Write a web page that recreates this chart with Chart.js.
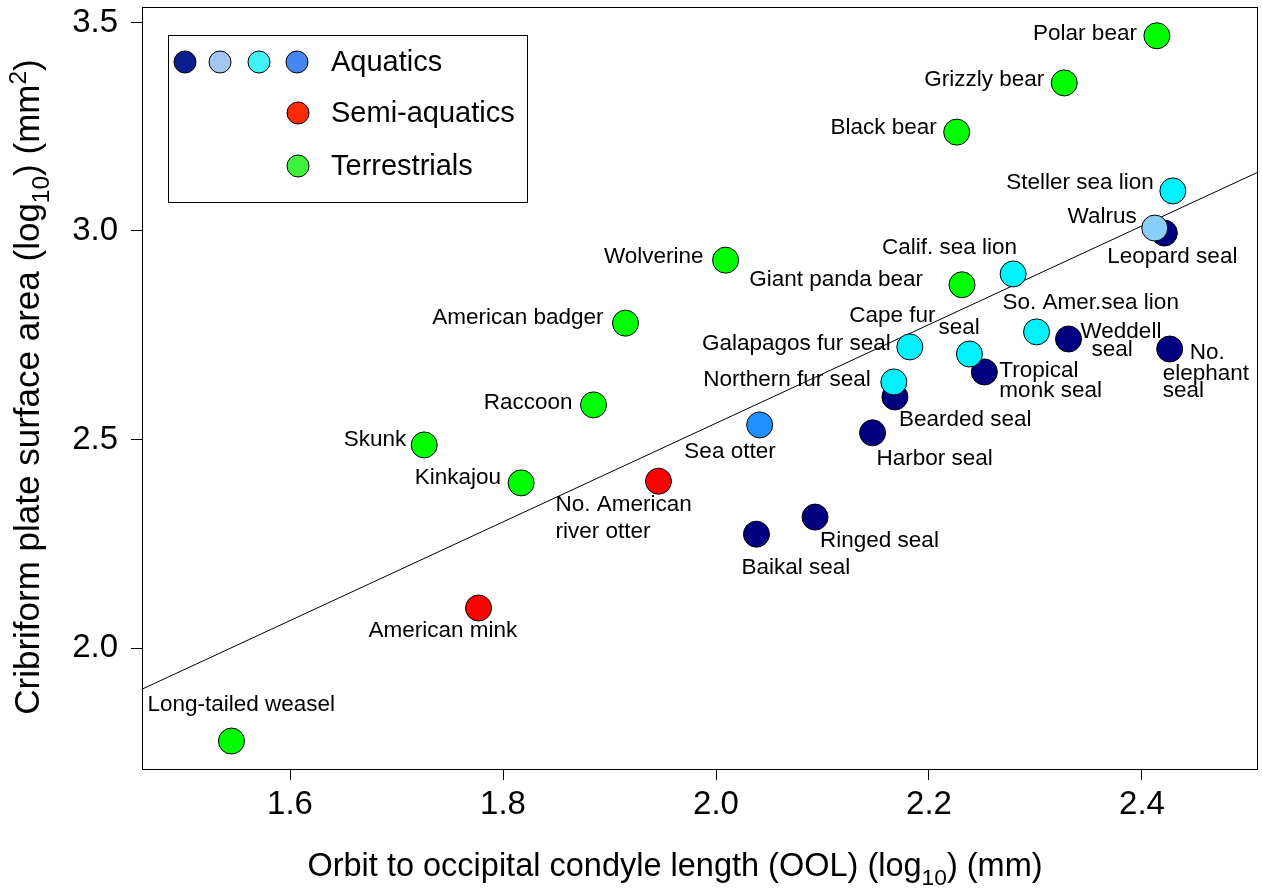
<!DOCTYPE html>
<html lang="en">
<head>
<meta charset="UTF-8">
<title>Cribriform plate area vs OOL</title>
<script src="https://cdn.jsdelivr.net/npm/chart.js"></script>
<style>
  body { margin: 0; background: #fff; }
  canvas { display: block; }
</style>
</head>
<body>
<canvas id="cpChart" width="1262" height="890"></canvas>
<script>
// species, log10 orbit-occipital condyle length (mm), log10 cribriform plate area (mm^2)
const species = [
  'Long-tailed weasel', 'American mink', 'Skunk', 'Kinkajou', 'Raccoon',
  'American badger', 'No. American river otter', 'Wolverine', 'Sea otter', 'Baikal seal',
  'Ringed seal', 'Harbor seal', 'Bearded seal', 'Northern fur seal', 'Galapagos fur seal',
  'Cape fur seal', 'Tropical monk seal', 'Giant panda bear', 'Black bear', 'Calif. sea lion',
  'So. Amer.sea lion', 'Weddell seal', 'Grizzly bear', 'Polar bear', 'Steller sea lion',
  'Walrus', 'Leopard seal', 'No. elephant seal'
];
const oolLog = [
  1.545, 1.777, 1.726, 1.817, 1.885,
  1.915, 1.946, 2.009, 2.041, 2.038,
  2.093, 2.147, 2.168, 2.167, 2.182,
  2.238, 2.252, 2.231, 2.226, 2.279,
  2.301, 2.331, 2.327, 2.414, 2.429,
  2.412, 2.421, 2.426
];
const cpLog = [
  1.777, 2.096, 2.487, 2.396, 2.583,
  2.779, 2.400, 2.930, 2.535, 2.273,
  2.314, 2.516, 2.602, 2.638, 2.722,
  2.705, 2.662, 2.871, 3.237, 2.897,
  2.758, 2.741, 3.355, 3.468, 3.096,
  3.007, 2.995, 2.717
];
// phocid / walrus / otariid / seaotter = aquatic, semi = semi-aquatic, terr = terrestrial
const group = [
  'terr', 'semi', 'terr', 'terr', 'terr',
  'terr', 'semi', 'terr', 'seaotter', 'phocid',
  'phocid', 'phocid', 'phocid', 'otariid', 'otariid',
  'otariid', 'phocid', 'terr', 'terr', 'otariid',
  'otariid', 'phocid', 'terr', 'terr', 'otariid',
  'walrus', 'phocid', 'phocid'
];
const xTicks = [1.6, 1.8, 2.0, 2.2, 2.4];
const yTicks = [2.0, 2.5, 3.0, 3.5];
const fitCoef = [0.173, 1.183]; // intercept, slope of the least-squares line
const legendLabels = ['Aquatics', 'Semi-aquatics', 'Terrestrials'];

const X_MIN = 1.461, X_MAX = 2.508, Y_MIN = 1.71, Y_MAX = 3.537;
const FONT = '"Liberation Sans", Arial, Helvetica, sans-serif';

const fills = {
  phocid: '#000080', walrus: '#87cefa', otariid: '#00f2ff',
  seaotter: '#1e90ff', semi: '#ff0000', terr: '#00ff00'
};
// phocids go underneath the others where circles overlap
const drawOrder = { phocid: 2, walrus: 1, otariid: 1, seaotter: 1, semi: 1, terr: 1 };

const groupDatasets = Object.keys(fills).map(g => {
  const pts = [];
  species.forEach((s, i) => {
    if (group[i] === g) pts.push({ x: oolLog[i], y: cpLog[i], name: s });
  });
  return {
    type: 'scatter',
    data: pts,
    order: drawOrder[g],
    pointRadius: 13,
    pointHoverRadius: 13,
    pointBackgroundColor: fills[g],
    pointBorderColor: '#000',
    pointBorderWidth: 1
  };
});

const fitDataset = {
  type: 'line',
  data: [X_MIN, X_MAX].map(x => ({ x: x, y: fitCoef[0] + fitCoef[1] * x })),
  borderColor: '#000',
  borderWidth: 1,
  pointRadius: 0,
  order: 3
};

// where each name sits relative to its circle: [text, dx, dy, align]
const labelSpots = {
  'Polar bear': [['Polar bear', -20, -2, 'right']],
  'Grizzly bear': [['Grizzly bear', -20, -3, 'right']],
  'Black bear': [['Black bear', -20, -4, 'right']],
  'Steller sea lion': [['Steller sea lion', -19, -8, 'right']],
  'Walrus': [['Walrus', -18, -11, 'right']],
  'Leopard seal': [['Leopard seal', 8, 24, 'center']],
  'Calif. sea lion': [['Calif. sea lion', 4, -26, 'right']],
  'Giant panda bear': [['Giant panda bear', -39, -5, 'right']],
  'Wolverine': [['Wolverine', -22, -3, 'right']],
  'American badger': [['American badger', -22, -5, 'right']],
  'So. Amer.sea lion': [['So. Amer.sea lion', -34, -29, 'left']],
  'Weddell seal': [['Weddell', 12, -7, 'left'], ['seal', 23, 11, 'left']],
  'No. elephant seal': [['No.', 20, 4, 'left'], ['elephant', -7, 25, 'left'], ['seal', -7, 42, 'left']],
  'Cape fur seal': [['Cape fur', -34, -38, 'right'], ['seal', -31, -26, 'left']],
  'Galapagos fur seal': [['Galapagos fur seal', -19, -3, 'right']],
  'Tropical monk seal': [['Tropical', 15, -1, 'left'], ['monk seal', 15, 19, 'left']],
  'Northern fur seal': [['Northern fur seal', -23, -2, 'right']],
  'Bearded seal': [['Bearded seal', 4, 23, 'left']],
  'Harbor seal': [['Harbor seal', 4, 26, 'left']],
  'Sea otter': [['Sea otter', 16, 27, 'right']],
  'Raccoon': [['Raccoon', -21, -2, 'right']],
  'Skunk': [['Skunk', -18, -5, 'right']],
  'Kinkajou': [['Kinkajou', -20, -5, 'right']],
  'No. American river otter': [['No. American', -103, 24, 'left'], ['river otter', -103, 51, 'left']],
  'Baikal seal': [['Baikal seal', -15, 34, 'left']],
  'Ringed seal': [['Ringed seal', 5, 24, 'left']],
  'American mink': [['American mink', -110, 23, 'left']],
  'Long-tailed weasel': [['Long-tailed weasel', -84, -36, 'left']]
};

const pointLabels = {
  id: 'pointLabels',
  afterDatasetsDraw(chart) {
    const ctx = chart.ctx;
    ctx.save();
    ctx.fillStyle = '#000';
    ctx.font = '22.5px ' + FONT;
    ctx.textBaseline = 'middle';
    chart.data.datasets.forEach((ds, di) => {
      if (ds.type !== 'scatter') return;
      chart.getDatasetMeta(di).data.forEach((el, i) => {
        (labelSpots[ds.data[i].name] || []).forEach(([t, dx, dy, al]) => {
          ctx.textAlign = al;
          ctx.fillText(t, el.x + dx, el.y + dy);
        });
      });
    });
    ctx.restore();
  }
};

function richText(ctx, parts, x, y, size) {
  const f = p => (p[1] ? size * 0.7 : size) + 'px ' + FONT;
  let w = 0;
  parts.forEach(p => { ctx.font = f(p); w += ctx.measureText(p[0]).width; });
  let cx = x - w / 2;
  parts.forEach(p => {
    ctx.font = f(p);
    const dy = p[1] === 'sub' ? size * 0.28 : p[1] === 'sup' ? -size * 0.38 : 0;
    ctx.fillText(p[0], cx, y + dy);
    cx += ctx.measureText(p[0]).width;
  });
}

const frameAndTitles = {
  id: 'frameAndTitles',
  afterDraw(chart) {
    const { ctx, chartArea: a } = chart;
    ctx.save();
    ctx.strokeStyle = '#000';
    ctx.lineWidth = 1;
    ctx.strokeRect(Math.round(a.left) + 0.5, Math.round(a.top) + 0.5,
      Math.round(a.right - a.left), Math.round(a.bottom - a.top));

    ctx.fillStyle = '#000';
    ctx.textAlign = 'left';
    ctx.textBaseline = 'alphabetic';
    richText(ctx, [['Orbit to occipital condyle length (OOL) (log'], ['10', 'sub'], [') (mm)']],
      675, 876, 32.5);
    ctx.translate(39, 387);
    ctx.rotate(-Math.PI / 2);
    richText(ctx, [['Cribriform plate surface area (log'], ['10', 'sub'], [') (mm'], ['2', 'sup'], [')']],
      0, 0, 35);
    ctx.restore();
  }
};

// legend box with four aquatic swatches on the first row
const habitatLegend = {
  id: 'habitatLegend',
  afterDraw(chart) {
    const ctx = chart.ctx;
    ctx.save();
    ctx.fillStyle = '#fff';
    ctx.fillRect(168, 35, 359, 167);
    ctx.strokeStyle = '#000';
    ctx.lineWidth = 1;
    ctx.strokeRect(168.5, 35.5, 359, 167);
    const rows = [
      { y: 62, swatches: [[185, '#0a1e8e'], [220, '#a3c6f0'], [259, '#40f2f8'], [297, '#4686f0']] },
      { y: 113, swatches: [[298, '#ff2a08']] },
      { y: 166, swatches: [[298, '#3ef23e']] }
    ];
    rows.forEach((r, i) => {
      r.swatches.forEach(([x, c]) => {
        ctx.beginPath();
        ctx.arc(x, r.y, 11, 0, Math.PI * 2);
        ctx.fillStyle = c;
        ctx.fill();
        ctx.stroke();
      });
      ctx.fillStyle = '#000';
      ctx.font = '29px ' + FONT;
      ctx.textAlign = 'left';
      ctx.textBaseline = 'middle';
      ctx.fillText(legendLabels[i], 331, r.y + 1);
    });
    ctx.restore();
  }
};

const tickFont = { family: FONT, size: 33 };

new Chart(document.getElementById('cpChart'), {
  data: { datasets: groupDatasets.concat([fitDataset]) },
  options: {
    responsive: false,
    animation: false,
    layout: { autoPadding: false, padding: { top: 7, right: 5, left: 0, bottom: 0 } },
    plugins: { legend: { display: false }, tooltip: { enabled: false } },
    scales: {
      x: {
        type: 'linear',
        min: X_MIN,
        max: X_MAX,
        afterBuildTicks: s => { s.ticks = xTicks.map(v => ({ value: v })); },
        afterFit: s => { s.height = 121; s.paddingLeft = 0; s.paddingRight = 0; },
        grid: { drawOnChartArea: false, drawTicks: true, tickLength: 11, color: '#000' },
        border: { display: false },
        ticks: { color: '#000', font: tickFont, padding: 5, maxRotation: 0,
          callback: v => v.toFixed(1) }
      },
      y: {
        type: 'linear',
        min: Y_MIN,
        max: Y_MAX,
        afterBuildTicks: s => { s.ticks = yTicks.map(v => ({ value: v })); },
        afterFit: s => { s.width = 142; s.paddingTop = 0; s.paddingBottom = 0; },
        grid: { drawOnChartArea: false, drawTicks: true, tickLength: 11, color: '#000' },
        border: { display: false },
        ticks: { color: '#000', font: tickFont, padding: 13,
          callback: v => v.toFixed(1) }
      }
    }
  },
  plugins: [pointLabels, frameAndTitles, habitatLegend]
});
</script>
</body>
</html>
